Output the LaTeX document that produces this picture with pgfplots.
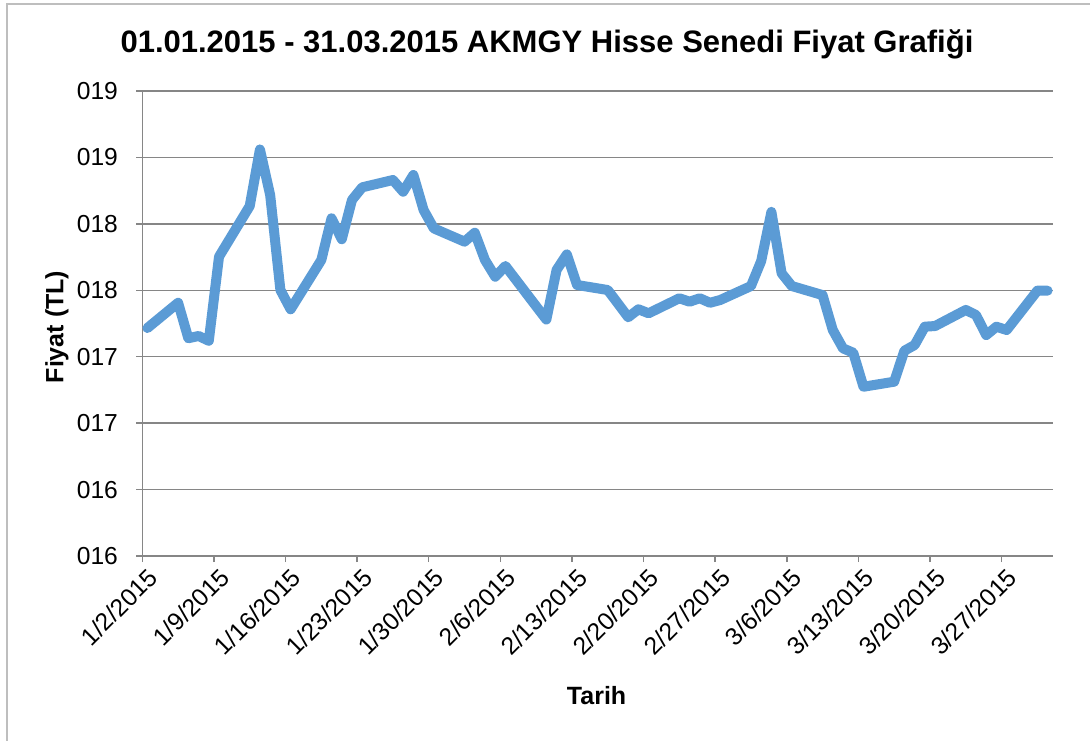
\documentclass[border=0pt]{standalone}
\usepackage{fontspec}
\setmainfont{Liberation Sans}
\usepackage{pgfplots}
\pgfplotsset{compat=1.18}
\definecolor{exblue}{RGB}{91,155,213}
\definecolor{exgray}{RGB}{134,134,134}
\definecolor{bordergray}{RGB}{190,190,190}
\begin{document}
\begin{tikzpicture}
\path[use as bounding box] (0,0) rectangle (545pt,370pt);
\draw[color=bordergray, line width=1pt] (3.5pt,-1pt) -- (3.5pt,368pt) -- (546pt,368pt);
\begin{axis}[
  at={(71.15pt,92pt)}, anchor=south west,
  scale only axis, width=455.2pt, height=232.5pt,
  xmin=0, xmax=89, ymin=15.5, ymax=19,
  xtick={0,7,...,84},
  xticklabels={1/2/2015,1/9/2015,1/16/2015,1/23/2015,1/30/2015,2/6/2015,2/13/2015,2/20/2015,2/27/2015,3/6/2015,3/13/2015,3/20/2015,3/27/2015},
  ytick={15.5,16,16.5,17,17.5,18,18.5,19},
  yticklabels={016,016,017,017,018,018,019,019},
  axis x line*=bottom, axis y line*=left,
  axis line style={exgray, line width=0.75pt, -},
  ymajorgrids, grid style={exgray, line width=0.75pt},
  tick align=outside, major tick length=3pt,
  tick style={exgray, line width=0.75pt},
  ticklabel style={font=\fontsize{12.3}{14}\selectfont},
  xticklabel style={rotate=45, anchor=north east, inner sep=1pt, yshift=-2pt, xshift=1pt},
  yticklabel style={inner sep=1pt, xshift=-8pt},
  clip=false,
]
\addplot[color=exblue, line width=5pt, line join=round, line cap=round] coordinates {
(0.5,17.216) (3.5,17.406) (4.5,17.139) (5.5,17.156) (6.5,17.12) (7.5,17.753)
(10.5,18.134) (11.5,18.56) (12.5,18.217) (13.5,17.502) (14.5,17.357)
(17.5,17.728) (18.5,18.042) (19.5,17.884) (20.5,18.18) (21.5,18.275)
(24.5,18.33) (25.5,18.242) (26.5,18.368) (27.5,18.104) (28.5,17.966)
(31.5,17.866) (32.5,17.933) (33.5,17.728) (34.5,17.602) (35.5,17.683)
(38.5,17.38) (39.5,17.28) (40.5,17.653) (41.5,17.77) (42.5,17.54)
(45.5,17.502) (46.5,17.40) (47.5,17.297) (48.5,17.357) (49.5,17.327)
(52.5,17.44) (53.5,17.414) (54.5,17.44) (55.5,17.406) (56.5,17.427)
(59.5,17.532) (60.5,17.72) (61.5,18.09) (62.5,17.628) (63.5,17.532)
(66.5,17.464) (67.5,17.201) (68.5,17.063) (69.5,17.03) (70.5,16.774)
(73.5,16.812) (74.5,17.045) (75.5,17.088) (76.5,17.226) (77.5,17.231)
(80.5,17.352) (81.5,17.314) (82.5,17.163) (83.5,17.226) (84.5,17.201)
(87.5,17.497) (88.5,17.497)
};
\end{axis}
\node[font=\fontsize{15.5}{18}\selectfont\bfseries] at (273.5pt,348pt) {01.01.2015 - 31.03.2015 AKMGY Hisse Senedi Fiyat Grafiği};
\node[font=\fontsize{12.5}{15}\selectfont\bfseries] at (298.3pt,22pt) {Tarih};
\node[font=\fontsize{12.5}{15}\selectfont\bfseries, rotate=90] at (28.5pt,206.5pt) {Fiyat (TL)};
\end{tikzpicture}
\end{document}
